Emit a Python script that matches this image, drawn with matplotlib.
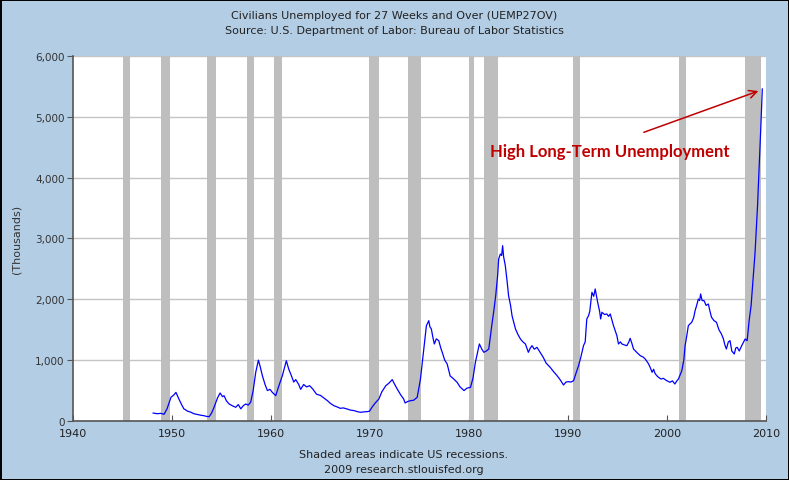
import matplotlib
matplotlib.use("Agg")
import matplotlib.pyplot as plt

# Civilians unemployed 27 weeks and over, thousands
years = [1948.1, 1948.5, 1948.9, 1949.2, 1949.5, 1949.9, 1950.2, 1950.4, 1950.7, 1951.0,
         1951.2, 1951.6, 1951.9, 1952.2, 1952.6, 1952.9, 1953.2, 1953.5, 1953.75, 1954.0,
         1954.25, 1954.6, 1954.86, 1955.1, 1955.26, 1955.5, 1955.77, 1956.1, 1956.44, 1956.7,
         1956.95, 1957.2, 1957.45, 1957.7, 1957.95, 1958.2, 1958.46, 1958.73, 1958.9, 1959.13,
         1959.4, 1959.64, 1959.9, 1960.14, 1960.48, 1960.8, 1961.15, 1961.4, 1961.55, 1961.8,
         1962.0, 1962.3, 1962.5, 1962.8, 1963.0, 1963.3, 1963.6, 1963.9, 1964.2, 1964.6,
         1965.0, 1965.4, 1965.7, 1966.0, 1966.35, 1966.7, 1967.0, 1967.3, 1967.7, 1968.0,
         1968.4, 1968.8, 1969.05, 1969.4, 1969.7, 1969.95, 1970.2, 1970.5, 1970.9, 1971.2,
         1971.6, 1971.9, 1972.25, 1972.5, 1972.75, 1973.1, 1973.4, 1973.55, 1973.8, 1974.1,
         1974.4, 1974.77, 1975.1, 1975.44, 1975.7, 1975.94, 1976.05, 1976.2, 1976.35, 1976.5,
         1976.7, 1976.95, 1977.15, 1977.3, 1977.55, 1977.8, 1978.1, 1978.4, 1978.8, 1979.1,
         1979.5, 1979.8, 1980.15, 1980.4, 1980.65, 1981.05, 1981.3, 1981.5, 1981.75, 1982.0,
         1982.3, 1982.5, 1982.7, 1982.9, 1983.0, 1983.17, 1983.3, 1983.4, 1983.5, 1983.67,
         1983.85, 1984.0, 1984.2, 1984.35, 1984.7, 1984.95, 1985.2, 1985.45, 1985.7, 1985.85,
         1986.0, 1986.2, 1986.37, 1986.6, 1986.87, 1987.1, 1987.5, 1987.8, 1988.2, 1988.5,
         1988.9, 1989.2, 1989.55, 1989.8, 1990.05, 1990.3, 1990.57, 1990.8, 1991.07, 1991.3,
         1991.57, 1991.74, 1991.9, 1992.08, 1992.2, 1992.42, 1992.6, 1992.75, 1993.0, 1993.2,
         1993.3, 1993.43, 1993.7, 1993.93, 1994.1, 1994.27, 1994.6, 1994.94, 1995.1, 1995.3,
         1995.45, 1995.7, 1995.95, 1996.15, 1996.28, 1996.45, 1996.62, 1997.0, 1997.3, 1997.6,
         1997.8, 1998.1, 1998.3, 1998.5, 1998.65, 1998.8, 1999.0, 1999.14, 1999.4, 1999.64,
         1999.9, 2000.3, 2000.55, 2000.8, 2001.0, 2001.16, 2001.5, 2001.7, 2001.83, 2002.0,
         2002.16, 2002.35, 2002.5, 2002.7, 2002.84, 2003.0, 2003.17, 2003.3, 2003.4, 2003.55,
         2003.75, 2003.95, 2004.18, 2004.35, 2004.5, 2004.75, 2005.0, 2005.25, 2005.5, 2005.7,
         2005.85, 2006.0, 2006.2, 2006.37, 2006.55, 2006.8, 2006.95, 2007.1, 2007.3, 2007.55,
         2007.75, 2007.9, 2008.1, 2008.3, 2008.5, 2008.65, 2008.9, 2009.15, 2009.35, 2009.5,
         2009.63]
uemp27ov = [130, 120, 125, 110, 200, 390, 430, 470, 360, 260,
            200, 160, 145, 120, 105, 95, 88, 75, 70, 130,
            225, 380, 460, 400, 416, 330, 280, 250, 225, 270,
            200, 250, 280, 260, 310, 500, 800, 1000, 900, 745,
            600, 500, 520, 470, 416, 580, 745, 900, 990, 850,
            770, 640, 680, 600, 520, 600, 560, 580, 530, 440,
            420, 370, 334, 290, 252, 230, 208, 215, 197, 180,
            170, 150, 143, 150, 153, 160, 225, 290, 362, 480,
            580, 620, 680, 600, 526, 430, 362, 296, 320, 334,
            340, 389, 690, 1183, 1567, 1649, 1550, 1512, 1380, 1266,
            1350, 1320, 1200, 1129, 1000, 937, 740, 700, 636, 560,
            500, 540, 553, 700, 964, 1266, 1180, 1129, 1150, 1183,
            1567, 1800, 2060, 2400, 2663, 2745, 2720, 2882, 2700, 2553,
            2300, 2060, 1900, 1731, 1512, 1420, 1348, 1300, 1266, 1200,
            1129, 1200, 1238, 1180, 1211, 1150, 1047, 950, 883, 820,
            745, 680, 592, 640, 646, 640, 663, 780, 910, 1050,
            1238, 1300, 1677, 1731, 1800, 2115, 2050, 2170, 1951, 1800,
            1677, 1787, 1750, 1759, 1720, 1759, 1567, 1403, 1266, 1300,
            1266, 1250, 1238, 1300, 1359, 1280, 1183, 1120, 1074, 1050,
            1019, 950, 883, 800, 850, 780, 740, 718, 690, 701,
            670, 636, 660, 608, 660, 690, 827, 1000, 1238, 1400,
            1567, 1600, 1622, 1700, 1813, 1900, 2005, 1980, 2088, 1980,
            1978, 1900, 1923, 1800, 1705, 1650, 1622, 1500, 1430, 1350,
            1250, 1183, 1300, 1320, 1150, 1101, 1200, 1211, 1150, 1238,
            1300, 1348, 1320, 1650, 1900, 2224, 2773, 3540, 4307, 4910,
            5458]

# NBER recessions (decimal years)
rec_start = [1945.1, 1948.85, 1953.5, 1957.6, 1960.3, 1969.9, 1973.85, 1980.0, 1981.5, 1990.5, 2001.2, 2007.9]
rec_end = [1945.8, 1949.8, 1954.4, 1958.3, 1961.1, 1970.9, 1975.2, 1980.55, 1982.9, 1991.2, 2001.9, 2009.5]

xticks = list(range(1940, 2011, 10))
yticks = [0, 1000, 2000, 3000, 4000, 5000, 6000]

bg = '#b3cde4'
narrow = ['Liberation Sans Narrow', 'DejaVu Sans']

fig = plt.figure(figsize=(7.89, 4.81), dpi=100, facecolor=bg,
                 edgecolor='black', linewidth=1.0)
ax = fig.add_axes([0.0925, 0.1227, 0.8783, 0.7588])
ax.set_facecolor('white')

for s, e in zip(rec_start, rec_end):
    ax.axvspan(s, e, color='#bebebe', lw=0, zorder=2)

ax.set_axisbelow(True)
ax.grid(axis='y', color='#c4c4c4', lw=1, zorder=1)
ax.plot(years, uemp27ov, color='#0000ff', lw=0.9, zorder=3)

ax.set_xlim(1940, 2010)
ax.set_ylim(0, 6000)
ax.set_xticks(xticks)
ax.set_xticklabels([str(t) for t in xticks], fontfamily=narrow, fontsize=8, color='#222222')
ax.set_yticks(yticks)
ax.set_yticklabels([f'{t:,}' for t in yticks], fontsize=7.5, color='#333333')
ax.tick_params(axis='x', direction='in', length=4, color='#555555', pad=5)
ax.tick_params(axis='y', direction='out', length=4, color='#555555', pad=2)
for side in ['top', 'right']:
    ax.spines[side].set_visible(False)
for side in ['left', 'bottom']:
    ax.spines[side].set_color('#555555')
    ax.spines[side].set_linewidth(1.2)

ax.set_ylabel('(Thousands)', fontsize=8, color='#333333', labelpad=10)

fig.text(0.5, 0.967, 'Civilians Unemployed for 27 Weeks and Over (UEMP27OV)',
         ha='center', va='center', fontfamily=narrow, fontsize=8, color='#222222')
fig.text(0.5, 0.935, 'Source: U.S. Department of Labor: Bureau of Labor Statistics',
         ha='center', va='center', fontfamily=narrow, fontsize=8, color='#222222')
fig.text(0.512, 0.055, 'Shaded areas indicate US recessions.',
         ha='center', va='center', fontfamily=narrow, fontsize=8, color='#222222')
fig.text(0.512, 0.023, '2009 research.stlouisfed.org',
         ha='center', va='center', fontfamily=narrow, fontsize=8, color='#222222')

ax.annotate('', xy=(2009.5, 5440), xytext=(1997.4, 4730),
            arrowprops=dict(arrowstyle='->', color='#c00000', lw=1.1,
                            mutation_scale=14), zorder=5)
ax.text(1982.1, 4440, 'High Long-Term Unemployment', color='#c00000',
        fontsize=12, fontweight='bold', fontfamily=['Lato', 'DejaVu Sans'],
        ha='left', va='center', zorder=5)

fig.savefig('out.png', dpi=100, facecolor=bg, edgecolor='black')
